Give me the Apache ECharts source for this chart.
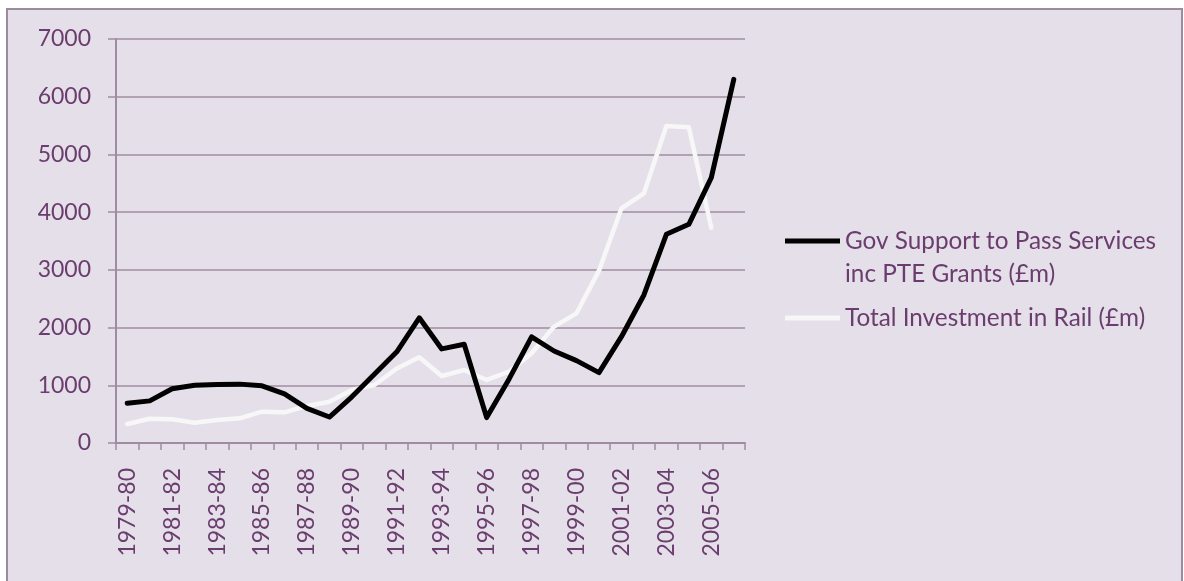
<!DOCTYPE html>
<html>
<head>
<meta charset="utf-8">
<script src="https://cdn.jsdelivr.net/npm/echarts@6/dist/echarts.min.js"></script>
<style>
  html, body { margin: 0; padding: 0; background: #ffffff; }
  #frame {
    position: absolute; left: 6px; top: 8px; width: 1173px; height: 600px;
    border: 2px solid #9E8A9E; background: #E4DFE8;
  }
  #chart { position: absolute; left: 0; top: 0; width: 1184px; height: 581px; }
</style>
</head>
<body>
<div id="frame"></div>
<div id="chart"></div>
<script>
// Financial years on the category axis
const years = [
  '1979-80', '1980-81', '1981-82', '1982-83', '1983-84', '1984-85', '1985-86',
  '1986-87', '1987-88', '1988-89', '1989-90', '1990-91', '1991-92', '1992-93',
  '1993-94', '1994-95', '1995-96', '1996-97', '1997-98', '1998-99', '1999-00',
  '2000-01', '2001-02', '2002-03', '2003-04', '2004-05', '2005-06', '2006-07'
];

// Government support to passenger services incl. PTE grants (£m)
const govSupport = [
  690, 730, 940, 1000, 1015, 1020, 990, 850, 600, 450, 800, 1190, 1580, 2170,
  1630, 1710, 440, 1110, 1840, 1594, 1427, 1220, 1842, 2565, 3616, 3789, 4598, 6300
];

// Total investment in rail (£m); no figure for the final year
const railInvestment = [
  330, 420, 410, 352, 398, 427, 543, 531, 641, 716, 918, 1005, 1290, 1485,
  1161, 1265, 1092, 1236, 1554, 2016, 2247, 2986, 4067, 4327, 5493, 5470, 3731, null
];

const yTicks = { min: 0, max: 7000, step: 1000 };

const nameGov = 'Gov Support to Pass Services\ninc PTE Grants (£m)';
const nameRail = 'Total Investment in Rail (£m)';

const textColor = '#6B3D6E';
const gridColor = '#A08CA2';
const font = 'Lato';

// Legend keys: a 55x5 bar inside a 55x38 box. The first key sits at the top
// of its box so that it lines up with the first line of its two-line label.
const keyTop = 'path://M0,0H55V5H0Z M0,38H0.01Z';
const keyMid = 'path://M0,0H0.01Z M0,16.5H55V21.5H0Z M0,38H0.01Z';

const chart = echarts.init(document.getElementById('chart'), null, { renderer: 'canvas' });
chart.setOption({
  backgroundColor: 'transparent',
  animation: false,
  grid: { left: 116, right: 439, top: 39, bottom: 138, containLabel: false },
  legend: {
    orient: 'vertical',
    left: 785,
    top: 224.5,
    padding: 0,
    itemGap: 8.5,
    itemWidth: 55,
    itemHeight: 38,
    itemStyle: { borderWidth: 0 },
    textStyle: { color: textColor, fontFamily: font, fontSize: 24.3, lineHeight: 33 },
    data: [
      { name: nameGov, icon: keyTop },
      { name: nameRail, icon: keyMid }
    ]
  },
  xAxis: {
    type: 'category',
    data: years,
    boundaryGap: true,
    axisLine: { lineStyle: { color: gridColor, width: 2 } },
    axisTick: { show: true, interval: 0, length: 7, lineStyle: { color: gridColor, width: 1.5 } },
    axisLabel: {
      interval: 1, rotate: 90, margin: 25,
      color: textColor, fontFamily: font, fontSize: 23
    },
    splitLine: { show: false }
  },
  yAxis: {
    type: 'value',
    min: yTicks.min,
    max: yTicks.max,
    interval: yTicks.step,
    axisLine: { show: true, lineStyle: { color: gridColor, width: 2 } },
    axisTick: { show: true, length: 8, lineStyle: { color: gridColor, width: 1.5 } },
    axisLabel: {
      margin: 25, color: textColor, fontFamily: font, fontSize: 23,
      formatter: (v) => String(v)
    },
    splitLine: { show: true, lineStyle: { color: gridColor, width: 1.5 } }
  },
  series: [
    {
      name: nameGov,
      type: 'line',
      data: govSupport,
      color: '#000000',
      symbol: 'none',
      lineStyle: { color: '#000000', width: 5, cap: 'round', join: 'round' },
      z: 3
    },
    {
      name: nameRail,
      type: 'line',
      data: railInvestment,
      color: '#F7F7F8',
      symbol: 'none',
      lineStyle: { color: '#F7F7F8', width: 4.5, cap: 'round', join: 'round' },
      z: 2
    }
  ]
});
</script>
</body>
</html>
